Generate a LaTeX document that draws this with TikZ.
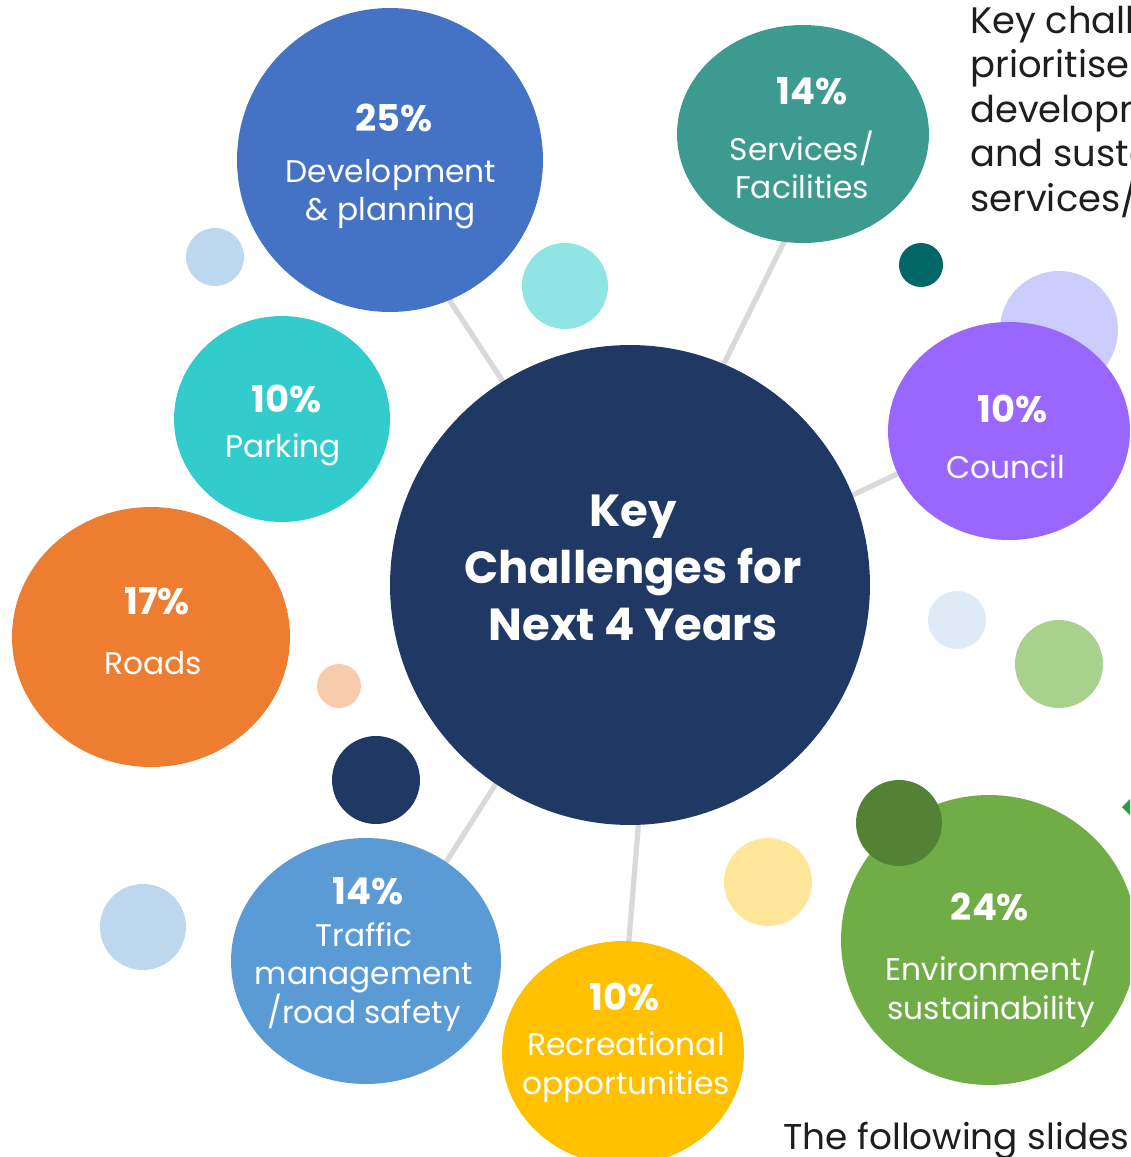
\documentclass[tikz,border=0pt]{standalone}
\usepackage{fontspec}
\setmainfont{Poppins}
\usetikzlibrary{shapes.geometric,backgrounds}
\definecolor{keynavy}{HTML}{203864}
\definecolor{devblue}{HTML}{4472C4}
\definecolor{servteal}{HTML}{3C9A8E}
\definecolor{parkcyan}{HTML}{33CCCC}
\definecolor{councilpurple}{HTML}{9966FF}
\definecolor{roadorange}{HTML}{ED7D31}
\definecolor{trafficblue}{HTML}{5B9BD5}
\definecolor{recgold}{HTML}{FFC000}
\definecolor{envgreen}{HTML}{70AD47}
\definecolor{linkgray}{HTML}{D9D9D9}
\definecolor{paleblue}{HTML}{BDD7EE}
\definecolor{palecyan}{HTML}{8EE5E3}
\definecolor{darkteal}{HTML}{006666}
\definecolor{lavender}{HTML}{CCCCFF}
\definecolor{iceblue}{HTML}{DEEBF7}
\definecolor{lightgreen}{HTML}{A9D18E}
\definecolor{peach}{HTML}{F8CBAD}
\definecolor{paleyellow}{HTML}{FFE699}
\definecolor{darkgreen}{HTML}{548235}
\definecolor{arrowgreen}{HTML}{2E9A3E}
\definecolor{inktext}{HTML}{1E1E1E}

\begin{document}
\begin{tikzpicture}[x=0.02cm,y=-0.02cm,
    bubble/.style={ellipse,inner sep=0pt,fill=#1},
    dot/.style={circle,inner sep=0pt,fill=#1},
    pct/.style={text=white,font=\bfseries\fontsize{21}{25}\selectfont},
    lbl/.style={text=white,font=\fontsize{17.8}{22}\selectfont},
    side/.style={text=inktext,anchor=base west,inner sep=0pt,font=\fontsize{21}{25}\selectfont},
    link/.style={draw=linkgray,line width=3pt,shorten <=-4pt,shorten >=-4pt}]
    \useasboundingbox (0,0) rectangle (1130,1157);
    \clip (0,0) rectangle (1130,1157);

    % small decorative dots
    \node[dot=paleblue,minimum size=1.16cm] (sa) at (215,257) {};
    \node[dot=palecyan,minimum size=1.72cm] (sb) at (565,286) {};
    \node[dot=darkteal,minimum size=0.88cm] (sc) at (921,265) {};
    \node[dot=lavender,minimum size=2.36cm] (sd) at (1059,330) {};
    \node[dot=iceblue,minimum size=1.16cm] (se) at (957,620) {};
    \node[dot=lightgreen,minimum size=1.76cm] (sf) at (1059,664) {};
    \node[dot=peach,minimum size=0.88cm] (sg) at (339,686) {};
    \node[dot=keynavy,minimum size=1.76cm] (sh) at (376,780) {};
    \node[dot=paleyellow,minimum size=1.76cm] (si) at (768,882) {};
    \node[dot=paleblue,minimum size=1.72cm] (sk) at (143,927) {};

    % bubbles
    \node[bubble=keynavy,minimum width=9.6cm,minimum height=9.6cm] (key) at (630,585) {};
    \node[bubble=devblue,minimum width=6.12cm,minimum height=6.08cm] (dev) at (390,160) {};
    \node[bubble=servteal,minimum width=5.04cm,minimum height=4.36cm] (serv) at (803,134) {};
    \node[bubble=parkcyan,minimum width=4.32cm,minimum height=4.12cm] (park) at (282,419) {};
    \node[bubble=councilpurple,minimum width=4.84cm,minimum height=4.36cm] (council) at (1009,431) {};
    \node[bubble=roadorange,minimum width=5.56cm,minimum height=5.2cm] (roads) at (151,637) {};
    \node[bubble=trafficblue,minimum width=5.4cm,minimum height=4.92cm] (traffic) at (366,961) {};
    \node[bubble=recgold,minimum width=4.84cm,minimum height=4.48cm] (rec) at (623,1053) {};
    \node[bubble=envgreen,minimum width=5.92cm,minimum height=5.8cm] (env) at (989,940) {};
    \node[dot=darkgreen,minimum size=1.72cm] (sj) at (899,823) {};
    \fill[arrowgreen] (1122,807) -- (1131,798) -- (1131,816) -- cycle;

    % connectors
    \begin{scope}[on background layer]
    \path[link]
    (key.122) edge (dev.-67)
    (key.67) edge (serv.-100.5)
    (key.22.6) edge (council.201)
    (key.236) edge (traffic.51.6)
    (key.-88.8) edge (rec.87.4);
    \end{scope}

    % texts
    \node[text=white,align=center,font=\bfseries\fontsize{25.6}{32.3}\selectfont] (keyt) at (633,568) {Key\\Challenges for\\Next 4 Years};
    \node[pct] (devp) at (394,118) {25\%};
    \node[lbl,align=center] (devl) at (391,194) {Development\\\& planning};
    \node[pct] (servp) at (812,91) {14\%};
    \node[lbl,align=center] (servl) at (802,165) {Services/\\Facilities};
    \node[pct] (parkp) at (287,399) {10\%};
    \node[lbl] (parkl) at (283,450) {Parking};
    \node[pct] (councilp) at (1013,409) {10\%};
    \node[lbl] (councill) at (1006,467) {Council};
    \node[pct] (roadsp) at (157,601) {17\%};
    \node[lbl] (roadsl) at (153,663) {Roads};
    \node[pct] (trafficp) at (368,891) {14\%};
    \node[lbl,align=center] (trafficl) at (364,977) {Traffic\\management\\/road safety};
    \node[pct] (recp) at (625,997) {10\%};
    \node[lbl,align=center] (recl) at (626,1067) {Recreational\\opportunities};
    \node[pct] (envp) at (990,907) {24\%};
    \node[lbl,align=center] (envl) at (991,989) {Environment/\\sustainability};

    % cut-off slide text
    \node[side] (side1) at (970,33) {Key challenges};
    \node[side] (side2) at (970,77) {prioritise c};
    \node[side] (side3) at (970,122) {development};
    \node[side] (side4) at (970,166) {and sustainability};
    \node[side] (side5) at (970,211) {services/facilities};
    \node[side,font=\fontsize{20.4}{25}\selectfont] (foot) at (783,1149) {The following slides};
\end{tikzpicture}
\end{document}
